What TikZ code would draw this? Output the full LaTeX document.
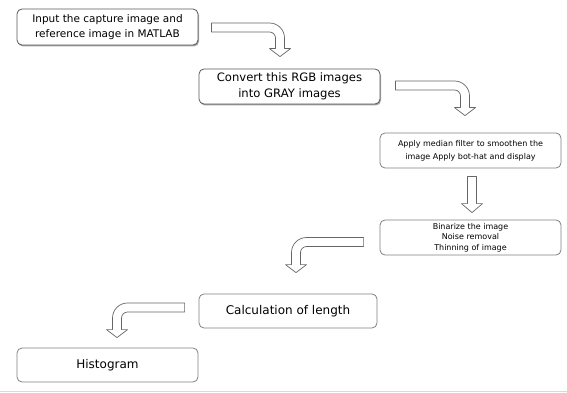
\documentclass[tikz,border=0pt]{standalone}
\usepackage{fontspec}
\setmainfont{DejaVu Sans}
\usetikzlibrary{positioning,shadows,calc}

% block arrow bent down; #1 = 1 (to the right) or -1 (to the left), #2 tail, #3 tip
\newcommand{\bentarrow}[3]{%
  \draw[blockarrow] let \p1=(#2), \p2=(#3) in
    ({\x1},{\y1+4.5pt}) -- ({\x2+(#1)*4.5pt-(#1)*15pt},{\y1+4.5pt})
    .. controls ({\x2+(#1)*4.5pt-(#1)*6.7pt},{\y1+4.5pt}) and ({\x2+(#1)*4.5pt},{\y1+4.5pt-6.7pt}) ..
    ({\x2+(#1)*4.5pt},{\y1+4.5pt-15pt}) -- ({\x2+(#1)*4.5pt},{\y2+8pt})
    -- ({\x2+(#1)*10.5pt},{\y2+8pt}) -- (\p2) -- ({\x2-(#1)*10.5pt},{\y2+8pt})
    -- ({\x2-(#1)*4.5pt},{\y2+8pt}) -- ({\x2-(#1)*4.5pt},{\y1-4.5pt-6pt})
    .. controls ({\x2-(#1)*4.5pt},{\y1-4.5pt-2.7pt}) and ({\x2-(#1)*4.5pt-(#1)*2.7pt},{\y1-4.5pt}) ..
    ({\x2-(#1)*4.5pt-(#1)*6pt},{\y1-4.5pt}) -- ({\x1},{\y1-4.5pt}) -- cycle;}

\begin{document}
\begin{tikzpicture}[
    x=1pt, y=-1pt,
    flowbox/.style={rectangle, rounded corners=5pt, draw=black!50, line width=0.8pt, fill=white,
      minimum width=181pt, minimum height=35pt, inner sep=0pt, align=center},
    shadowbox/.style={flowbox, draw=black!65,
      drop shadow={shadow xshift=1pt, shadow yshift=-1.5pt, fill=black!35, opacity=1}},
    blockarrow/.style={draw=black!60, line width=0.7pt, fill=white, line join=round}
]
\useasboundingbox (0,0) rectangle (567,393);

% Nodes
\node[shadowbox, minimum height=36pt, font=\fontsize{10.5}{15}\selectfont] (input) at (107.5,27)
  {Input the capture image and\\reference image in MATLAB};
\node[shadowbox, font=\fontsize{11.6}{16}\selectfont] (convert) at (289.5,86.5)
  {Convert this RGB images\\into GRAY images};
\node[flowbox, font=\fontsize{8}{13}\selectfont] (median) at (470.5,150.5)
  {Apply median filter to smoothen the\\image Apply bot-hat and display};
\node[flowbox, font=\fontsize{8}{10.5}\selectfont] (binarize) at (470.5,237.5)
  {Binarize the image\\Noise removal\\Thinning of image};
\node[flowbox, minimum width=178pt, minimum height=34pt, font=\fontsize{12}{14}\selectfont] (length) at (288,311)
  {Calculation of length};
\node[flowbox, minimum height=34pt, font=\fontsize{12}{14}\selectfont] (histogram) at (107.5,365)
  {Histogram};

% Arrows
\bentarrow{1}{$(input.east)+(13,0.5)$}{$(convert.north)+(-9.5,-12)$}
\bentarrow{1}{$(convert.east)+(15,-1)$}{$(median.north)+(-5.5,-17)$}
\draw[blockarrow] ($(median.south)+(-3,8)$) -- ($(median.south)+(6,8)$) -- ($(binarize.north)+(6,-16)$)
  -- ($(binarize.north)+(12,-16)$) -- ($(binarize.north)+(1.5,-7)$) -- ($(binarize.north)+(-9,-16)$)
  -- ($(binarize.north)+(-3,-16)$) -- cycle;
\bentarrow{-1}{$(binarize.west)+(-16,4.5)$}{$(length.north)+(8,-21)$}
\bentarrow{-1}{$(length.west)+(-14,-3.5)$}{$(histogram.north)+(9.5,-10)$}

\draw[black!15, line width=1pt] (0,391) -- (567,391);
\end{tikzpicture}
\end{document}
